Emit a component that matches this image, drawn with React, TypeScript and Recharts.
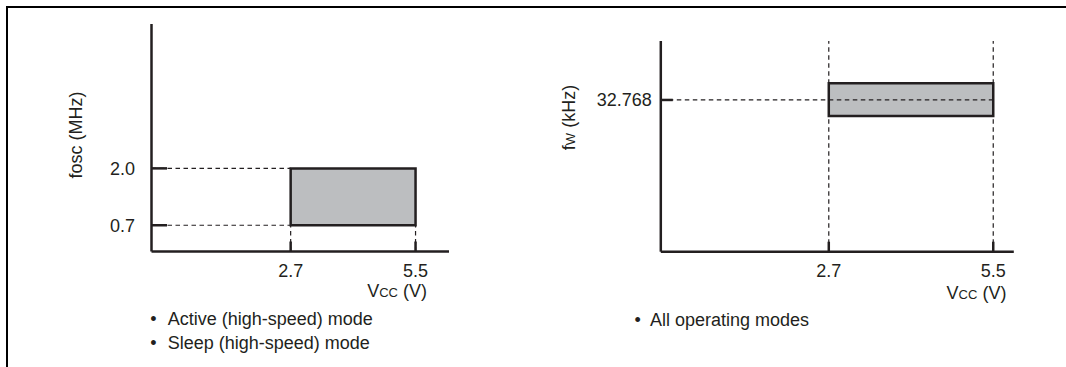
import React from 'react';
import { ComposedChart, XAxis, YAxis, ReferenceArea, ReferenceLine, Customized } from 'recharts';

// ---------- data ----------
const VCC_TICKS = [2.7, 5.5];
const VCC_RANGE = [2.7, 5.5];
const FOSC_TICKS = [0.7, 2.0];
const FOSC_RANGE = [0.7, 2.0];
const FW_TICKS = [32.768];
const FW_RANGE = [29.3, 36.4];
const LEFT_X_DOMAIN = [-0.42, 6.25];
const LEFT_Y_DOMAIN = [0.1, 5.3];
const RIGHT_X_DOMAIN = [-0.16, 5.85];
const RIGHT_Y_DOMAIN = [0, 45.5];
const LEFT_NOTES = ['Active (high-speed) mode', 'Sleep (high-speed) mode'];
const RIGHT_NOTES = ['All operating modes'];

// ---------- style ----------
const INK = '#231f20';
const BOX_FILL = '#bcbec0';
const FONT = '"Liberation Sans", Arial, Helvetica, sans-serif';
const FS = 18;
const DASH = '4.5 3.5';

const makeYTick = (markLen: number, gap: number, fmt: (v: number) => string) => (props: any) => {
  const { x, y, payload } = props;
  return (
    <g>
      <line x1={x} y1={y} x2={x + markLen} y2={y} stroke={INK} strokeWidth={2.5} />
      <text x={x - gap} y={y} dy={6.4} textAnchor="end" fontSize={FS} fill={INK} fontFamily={FONT}>
        {fmt(payload.value)}
      </text>
    </g>
  );
};

const XTick = (props: any) => {
  const { x, y, payload } = props;
  return (
    <g>
      <line x1={x} y1={y} x2={x} y2={y - 10} stroke={INK} strokeWidth={2.5} />
      <text x={x} y={y + 25.5} textAnchor="middle" fontSize={FS} fill={INK} fontFamily={FONT}>
        {payload.value.toFixed(1)}
      </text>
    </g>
  );
};

const LeftTexts = () => (
  <g fontFamily={FONT} fill={INK} fontSize={FS}>
    <text transform="translate(82,135) rotate(-90)" textAnchor="middle">fosc (MHz)</text>
    <text x={427} y={296.5} textAnchor="end">
      <tspan>V</tspan>
      <tspan fontSize={13}>CC</tspan>
      <tspan> (V)</tspan>
    </text>
    {LEFT_NOTES.map((n, i) => (
      <g key={n}>
        <text x={153.5} y={324.5 + i * 24} textAnchor="middle">•</text>
        <text x={167.7} y={324.5 + i * 24}>{n}</text>
      </g>
    ))}
  </g>
);

const RightTexts = () => (
  <g fontFamily={FONT} fill={INK} fontSize={FS}>
    <text transform="translate(35,117.5) rotate(-90)" textAnchor="middle">
      <tspan>f</tspan>
      <tspan fontSize={13}>W</tspan>
      <tspan> (kHz)</tspan>
    </text>
    <text x={466.4} y={298.5} textAnchor="end">
      <tspan>V</tspan>
      <tspan fontSize={13}>CC</tspan>
      <tspan> (V)</tspan>
    </text>
    {RIGHT_NOTES.map((n, i) => (
      <g key={n}>
        <text x={97.7} y={326 + i * 24} textAnchor="middle">•</text>
        <text x={110} y={326 + i * 24}>{n}</text>
      </g>
    ))}
  </g>
);

const axisLine = { stroke: INK, strokeWidth: 2.5 };

export default function App() {
  return (
    <div style={{ position: 'absolute', left: 0, top: 0, width: 1066, height: 367, background: '#fff', overflow: 'hidden' }}>
      <div
        style={{
          position: 'absolute', left: 6, top: 6, width: 1100, height: 400,
          borderTop: '2px solid #000', borderLeft: '2px solid #000', boxSizing: 'border-box',
        }}
      />
      <div style={{ position: 'absolute', left: 0, top: 0 }}>
        <ComposedChart width={540} height={367} margin={{ top: 24, left: 150.5, right: 91, bottom: 114.5 }}>
          <XAxis type="number" dataKey="x" domain={LEFT_X_DOMAIN} ticks={VCC_TICKS} interval={0} allowDataOverflow
            height={1} tickSize={0} tickMargin={0} tickLine={false} axisLine={axisLine} tick={XTick} />
          <YAxis type="number" dataKey="y" domain={LEFT_Y_DOMAIN} ticks={FOSC_TICKS} interval={0} allowDataOverflow
            width={1} tickSize={0} tickMargin={0} tickLine={false} axisLine={axisLine}
            tick={makeYTick(15.5, 16.5, (v) => v.toFixed(1))} />
          <ReferenceArea x1={VCC_RANGE[0]} x2={VCC_RANGE[1]} y1={FOSC_RANGE[0]} y2={FOSC_RANGE[1]}
            fill={BOX_FILL} fillOpacity={1} stroke={INK} strokeWidth={2.5} />
          {FOSC_TICKS.map((v) => (
            <ReferenceLine key={'h' + v} segment={[{ x: LEFT_X_DOMAIN[0], y: v }, { x: VCC_RANGE[0], y: v }]}
              stroke={INK} strokeWidth={1.2} strokeDasharray={DASH} />
          ))}
          {VCC_TICKS.map((v) => (
            <ReferenceLine key={'v' + v} segment={[{ x: v, y: LEFT_Y_DOMAIN[0] }, { x: v, y: FOSC_RANGE[0] }]}
              stroke={INK} strokeWidth={1.2} strokeDasharray={DASH} />
          ))}
          <Customized component={<LeftTexts />} />
        </ComposedChart>
      </div>
      <div style={{ position: 'absolute', left: 540, top: 0 }}>
        <ComposedChart width={526} height={367} margin={{ top: 41, left: 119.8, right: 52.2, bottom: 114.3 }}>
          <XAxis type="number" dataKey="x" domain={RIGHT_X_DOMAIN} ticks={VCC_TICKS} interval={0} allowDataOverflow
            height={1} tickSize={0} tickMargin={0} tickLine={false} axisLine={axisLine} tick={XTick} />
          <YAxis type="number" dataKey="y" domain={RIGHT_Y_DOMAIN} ticks={FW_TICKS} interval={0} allowDataOverflow
            width={1} tickSize={0} tickMargin={0} tickLine={false} axisLine={axisLine}
            tick={makeYTick(12, 9, (v) => v.toFixed(3))} />
          <ReferenceArea x1={VCC_RANGE[0]} x2={VCC_RANGE[1]} y1={FW_RANGE[0]} y2={FW_RANGE[1]}
            fill={BOX_FILL} fillOpacity={1} stroke={INK} strokeWidth={2.5} />
          {VCC_TICKS.map((v) => (
            <ReferenceLine key={'v' + v} segment={[{ x: v, y: RIGHT_Y_DOMAIN[0] }, { x: v, y: RIGHT_Y_DOMAIN[1] }]}
              stroke={INK} strokeWidth={1.2} strokeDasharray={DASH} />
          ))}
          {FW_TICKS.map((v) => (
            <ReferenceLine key={'h' + v} segment={[{ x: RIGHT_X_DOMAIN[0], y: v }, { x: VCC_RANGE[1], y: v }]}
              stroke={INK} strokeWidth={1.2} strokeDasharray={DASH} />
          ))}
          <Customized component={<RightTexts />} />
        </ComposedChart>
      </div>
    </div>
  );
}
